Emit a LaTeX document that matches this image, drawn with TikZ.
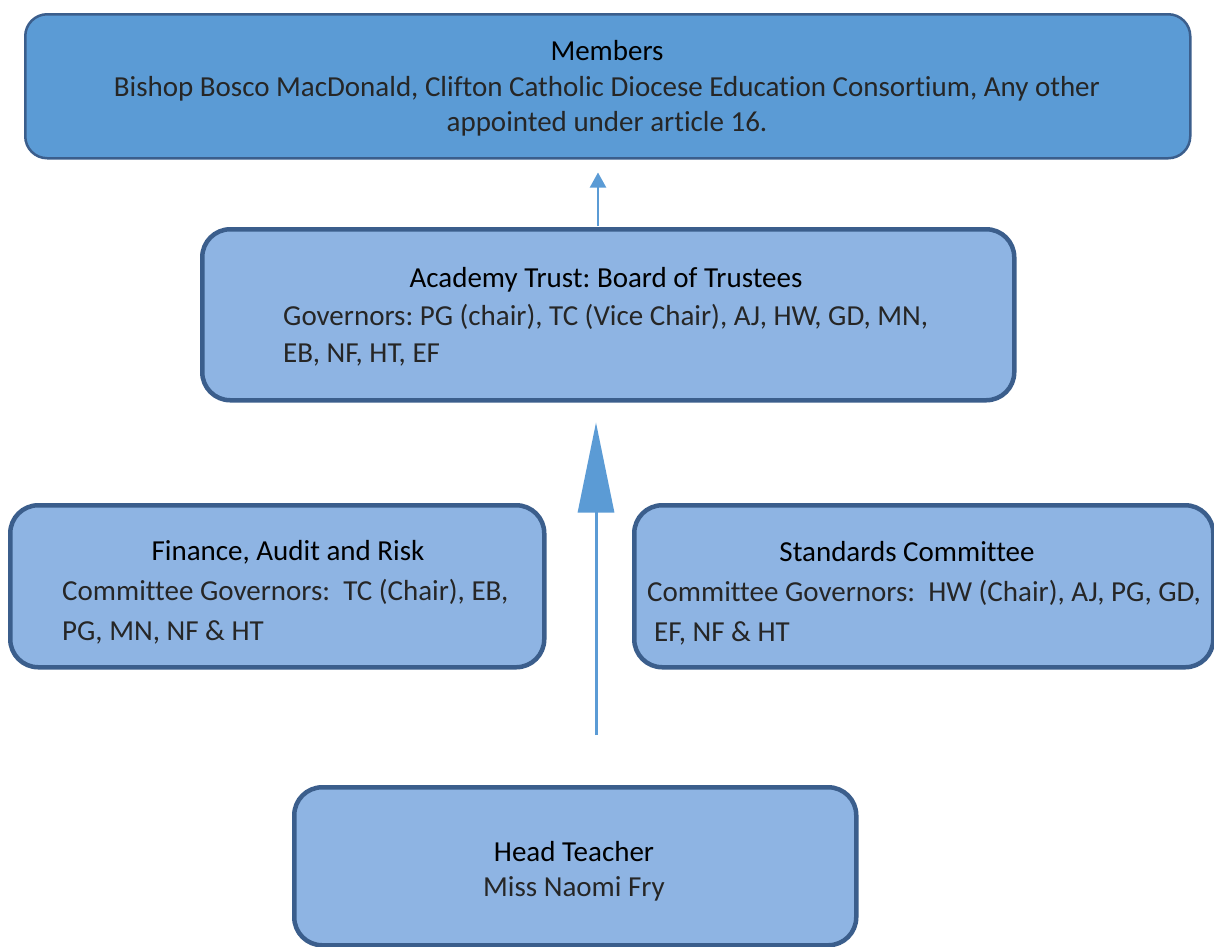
\documentclass[tikz,border=0pt]{standalone}
\usepackage{fontspec}
\setmainfont{Carlito}[Ligatures=NoCommon]
\usetikzlibrary{arrows.meta}
\definecolor{memfill}{HTML}{5B9BD5}
\definecolor{boxfill}{HTML}{8EB4E3}
\definecolor{edgec}{HTML}{3B5E8C}
\definecolor{arrowc}{HTML}{5B9BD5}
\frenchspacing
\begin{document}
\begin{tikzpicture}[x=1pt,y=-1pt,
  box/.style={draw=edgec, line width=4.5pt, fill=boxfill, rounded corners=28pt, anchor=north west, inner sep=0},
  topbox/.style={draw=edgec, line width=2.5pt, fill=memfill, rounded corners=22pt, anchor=north west, inner sep=0},
  title/.style={font=\fontsize{29}{34}\selectfont, text=black, inner sep=0},
  body/.style={font=\fontsize{29}{34}\selectfont, text=black!85, inner sep=0},
]
\useasboundingbox (0,0) rectangle (1214,946);
% boxes
\node[topbox, minimum width=1165pt, minimum height=144pt] (members) at (24,13) {};
\node[box, minimum width=812pt, minimum height=171pt] (board) at (200,227) {};
\node[box, minimum width=534pt, minimum height=162pt] (finance) at (8,503) {};
\node[box, minimum width=579pt, minimum height=162pt] (standards) at (632,503) {};
\node[box, minimum width=562pt, minimum height=158pt] (head) at (292,785) {};
% arrows
\coordinate (s1) at (598,226);
\coordinate (s2) at (596,735);
\draw[arrowc, line width=2pt, -{Triangle[width=16pt,length=15pt]}, shorten >=13pt]
  (s1) -- (s1 |- members.south);
\draw[arrowc, line width=3pt, -{Triangle[width=36pt,length=90pt]}, shorten >=20pt]
  (s2) -- (s2 |- board.south);
% texts
\node[title, anchor=base] (t1) at (607,60) {Members};
\node[body, anchor=base] (b1a) at (607,96) {Bishop Bosco MacDonald, Clifton Catholic Diocese Education Consortium, Any other};
\node[body, anchor=base] (b1b) at (607,131) {appointed under article 16.};
\node[title, anchor=base] (t2) at (606,287) {Academy Trust: Board of Trustees};
\node[body, anchor=base west] (b2a) at (283,325) {Governors: PG (chair), TC (Vice Chair), AJ, HW, GD, MN,};
\node[body, anchor=base west] (b2b) at (283,362) {EB, NF, HT, EF};
\node[title, anchor=base] (t3) at (288,560) {Finance, Audit and Risk};
\node[body, anchor=base west] (b3a) at (62,600) {Committee Governors:\ \ TC (Chair), EB,};
\node[body, anchor=base west] (b3b) at (62,640) {PG, MN, NF \& HT};
\node[title, anchor=base] (t4) at (907,561) {Standards Committee};
\node[body, anchor=base west] (b4a) at (647,601) {Committee Governors:\ \ HW (Chair), AJ, PG, GD,};
\node[body, anchor=base west] (b4b) at (654,641) {EF, NF \& HT};
\node[title, anchor=base] (t5) at (574,861) {Head Teacher};
\node[body, anchor=base] (b5) at (574,896) {Miss Naomi Fry};
\end{tikzpicture}
\end{document}
